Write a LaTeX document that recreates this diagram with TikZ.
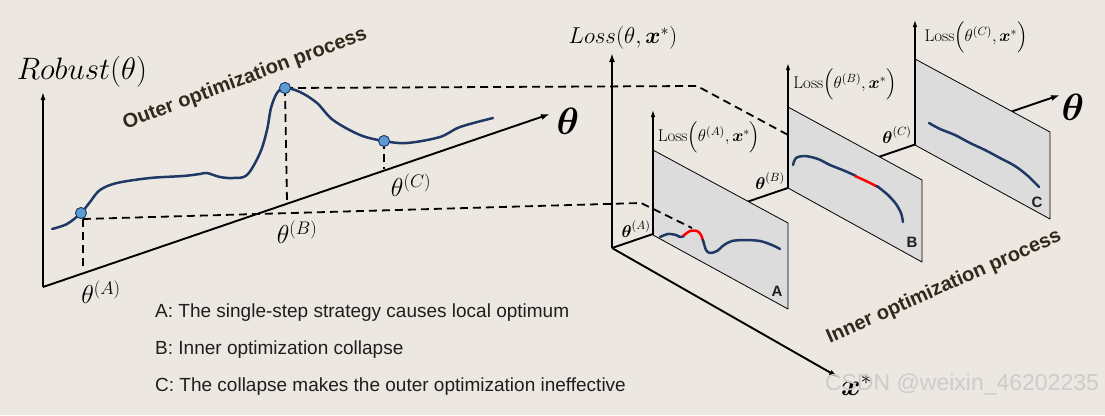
\RequirePackage{fix-cm}
\documentclass[tikz,border=0pt]{standalone}
\usepackage{amsmath}
\usepackage{fontspec}
\setsansfont{Liberation Sans}
\usetikzlibrary{arrows.meta}
\definecolor{bgc}{HTML}{ECE8E1}
\definecolor{navy}{HTML}{1F3864}
\definecolor{planegray}{HTML}{DCDCDC}
\definecolor{dotblue}{HTML}{5B9BD5}
\definecolor{procc}{HTML}{33291B}
\definecolor{txtc}{HTML}{1E1E1E}
\tikzset{
  thinaxis/.style={line width=1.4pt,-{Latex[length=8pt,width=5pt]}},
  thickaxis/.style={line width=1.9pt,-{Latex[length=9pt,width=6pt]}},
  planeaxis/.style={line width=1.1pt,-{Latex[length=7pt,width=4.5pt]}},
  dashline/.style={dash pattern=on 8pt off 5pt, line width=1.8pt},
  curveline/.style={navy, line width=2.5pt, line cap=round, line join=round},
  redline/.style={red, line width=2.5pt, line join=round},
  planebox/.style={fill=planegray, draw=black, line width=0.8pt, line join=round},
  dotnode/.style={circle, fill=dotblue, draw=navy, line width=0.8pt, inner sep=0pt, minimum size=11pt},
  proctext/.style={font=\fontsize{20}{24}\selectfont\sffamily\bfseries, text=procc, inner sep=0pt},
  desc/.style={anchor=base west, font=\fontsize{19}{23}\selectfont\sffamily, text=txtc, inner sep=0pt},
  planeletter/.style={font=\fontsize{15}{18}\selectfont\sffamily\bfseries, text=txtc, inner sep=0pt},
  lab/.style={inner sep=0pt}
}
\begin{document}
\begin{tikzpicture}[x=1pt,y=-1pt]
\fill[bgc] (0,0) rectangle (1105,415);
\useasboundingbox (0,0) rectangle (1105,415);

% ---------------- left panel ----------------
\coordinate (O1) at (43,287);
\coordinate (Ytop) at (43,92);
\coordinate (Ttip) at (550,114);
\draw[thinaxis] (O1) -- (Ytop);
\draw[thickaxis] (O1) -- (Ttip);

\node[lab] (robust) at (82,72) {\fontsize{31}{37}\selectfont$Robust(\theta)$};
\node[lab] (thetaL) at (568,121) {\fontsize{38}{44}\selectfont$\boldsymbol{\theta}$};

\node[dotnode] (pA) at (81,213) {};
\node[dotnode] (pB) at (285,88) {};
\node[dotnode] (pC) at (384,141) {};

\coordinate (aV) at (83,266);
\coordinate (aH0) at (83,219);
\coordinate (aH1) at (641,203);
\coordinate (aH2) at (692,228);
\coordinate (bV) at (287,202);
\coordinate (bH1) at (697,86);
\coordinate (bH2) at (857,172);
\coordinate (cV) at (384,169);

\draw[dashline] (aH0) -- (aV);
\draw[dashline] (pB.center) -- (bV);
\draw[dashline] (pC.center) -- (cV);
\draw[dashline] (pB.center) -- (bH1) -- (bH2);

\draw[curveline] plot[smooth, tension=0.55] coordinates {(52,229) (67,224) (81,213) (90,202) (100,190) (117,183) (150,178) (183,176) (200,174) (207,173) (220,177) (233,178) (247,175) (260,153) (267,130) (271,108) (277,93) (285,88) (300,92) (317,103) (333,120) (360,135) (384,141) (407,143) (440,137) (460,127) (493,118)};

\node[dotnode] at (pA) {};
\node[dotnode] at (pB) {};
\node[dotnode] at (pC) {};

\node[lab] (tA) at (101,292) {\fontsize{26}{31}\selectfont$\theta^{(A)}$};
\node[lab] (tB) at (297,232) {\fontsize{26}{31}\selectfont$\theta^{(B)}$};
\node[lab] (tC) at (411,185) {\fontsize{26}{31}\selectfont$\theta^{(C)}$};

\node[proctext, rotate=20.5] (outer) at (245,79) {Outer optimization process};

% ---------------- right panel ----------------
\coordinate (O2) at (612,248);
\coordinate (Ltop) at (612,53);
\coordinate (Xtip) at (838,377);
\coordinate (T2tip) at (1060,95);
\draw[thickaxis] (O2) -- (Ltop);
\draw[thickaxis] (O2) -- (Xtip);
\draw[thickaxis] (O2) -- (T2tip);

% plane C
\coordinate (cTL) at (915,59);  \coordinate (cTR) at (1050,132);
\coordinate (cBL) at (915,145); \coordinate (cBR) at (1050,219);
\draw[planebox] (cTL) -- (cTR) -- (cBR) -- (cBL) -- cycle;
% plane B
\coordinate (bTL) at (788,107); \coordinate (bTR) at (922,180);
\coordinate (bBL) at (788,188); \coordinate (bBR) at (922,262);
\draw[planebox] (bTL) -- (bTR) -- (bBR) -- (bBL) -- cycle;
% plane A
\coordinate (aTL) at (653,150); \coordinate (aTR) at (788,223);
\coordinate (aBL) at (653,235); \coordinate (aBR) at (788,309);
\draw[planebox] (aTL) -- (aTR) -- (aBR) -- (aBL) -- cycle;

\coordinate (aAx) at (653,110);
\coordinate (bAx) at (788,63);
\coordinate (cAx) at (915,20);
\draw[planeaxis] (aBL) -- (aAx);
\draw[planeaxis, line width=1.5pt] (bBL) -- (bAx);
\draw[planeaxis] (cBL) -- (cAx);

\draw[dashline] (aH0) -- (aH1) -- (aH2);

% curves in planes
\draw[curveline] plot[smooth, tension=0.5] coordinates {(660,237) (668,234) (676,235) (680,237) (684,236)};
\draw[redline] plot[smooth, tension=0.5] coordinates {(683,236) (690,231) (697,231) (701,235) (703,241)};
\draw[curveline] plot[smooth, tension=0.5] coordinates {(703,240) (706,250) (710,253) (717,251) (724,245) (732,241) (745,240) (760,241) (772,245) (780,249)};

\draw[curveline] plot[smooth, tension=0.5] coordinates {(793,165) (796,158) (805,156) (818,159) (830,165) (845,171) (856,176)};
\draw[redline] plot[smooth, tension=0.5] coordinates {(855,176) (866,181) (878,187)};
\draw[curveline] plot[smooth, tension=0.5] coordinates {(877,186) (888,195) (896,204) (901,213) (903,222)};

\draw[curveline] plot[smooth, tension=0.5] coordinates {(929,123) (940,129) (955,135) (970,143) (985,150) (1000,158) (1015,166) (1028,176) (1039,187)};

% labels right
\node[lab] (lossbig) at (623,38) {\fontsize{23}{27}\selectfont$Loss(\theta,\boldsymbol{x}^*)$};
\node[lab] (lossA) at (709,137) {\fontsize{17}{20}\selectfont Loss$\Bigl(\theta^{(A)},\boldsymbol{x}^*\Bigr)$};
\node[lab] (lossB) at (845,84) {\fontsize{17}{20}\selectfont Loss$\Bigl(\theta^{(B)},\boldsymbol{x}^*\Bigr)$};
\node[lab] (lossC) at (976,37) {\fontsize{17}{20}\selectfont Loss$\Bigl(\theta^{(C)},\boldsymbol{x}^*\Bigr)$};

\node[lab] (rA) at (636,229) {\fontsize{17}{20}\selectfont$\boldsymbol{\theta}^{(A)}$};
\node[lab] (rB) at (770,181) {\fontsize{17}{20}\selectfont$\boldsymbol{\theta}^{(B)}$};
\node[lab] (rC) at (897,135) {\fontsize{17}{20}\selectfont$\boldsymbol{\theta}^{(C)}$};

\node[lab] (thetaR) at (1073,107) {\fontsize{38}{44}\selectfont$\boldsymbol{\theta}$};
\node[lab, anchor=base west] (xstar) at (841,395) {\fontsize{30}{36}\selectfont$\boldsymbol{x}^*$};

\node[planeletter] (letA) at (777,291) {A};
\node[planeletter] (letB) at (912,242) {B};
\node[planeletter] (letC) at (1037,202) {C};

\node[proctext, rotate=24] (inner) at (944,287) {Inner optimization process};

% ---------------- text ----------------
\node[desc] (dA) at (155,317) {A: The single-step strategy causes local optimum};
\node[desc] (dB) at (155,354) {B: Inner optimization collapse};
\node[desc] (dC) at (155,391) {C: The collapse makes the outer optimization ineffective};

\node[lab, font=\fontsize{23}{27}\selectfont\sffamily, text=gray!40] (wm) at (962,384) {CSDN @weixin\_46202235};
\end{tikzpicture}
\end{document}
